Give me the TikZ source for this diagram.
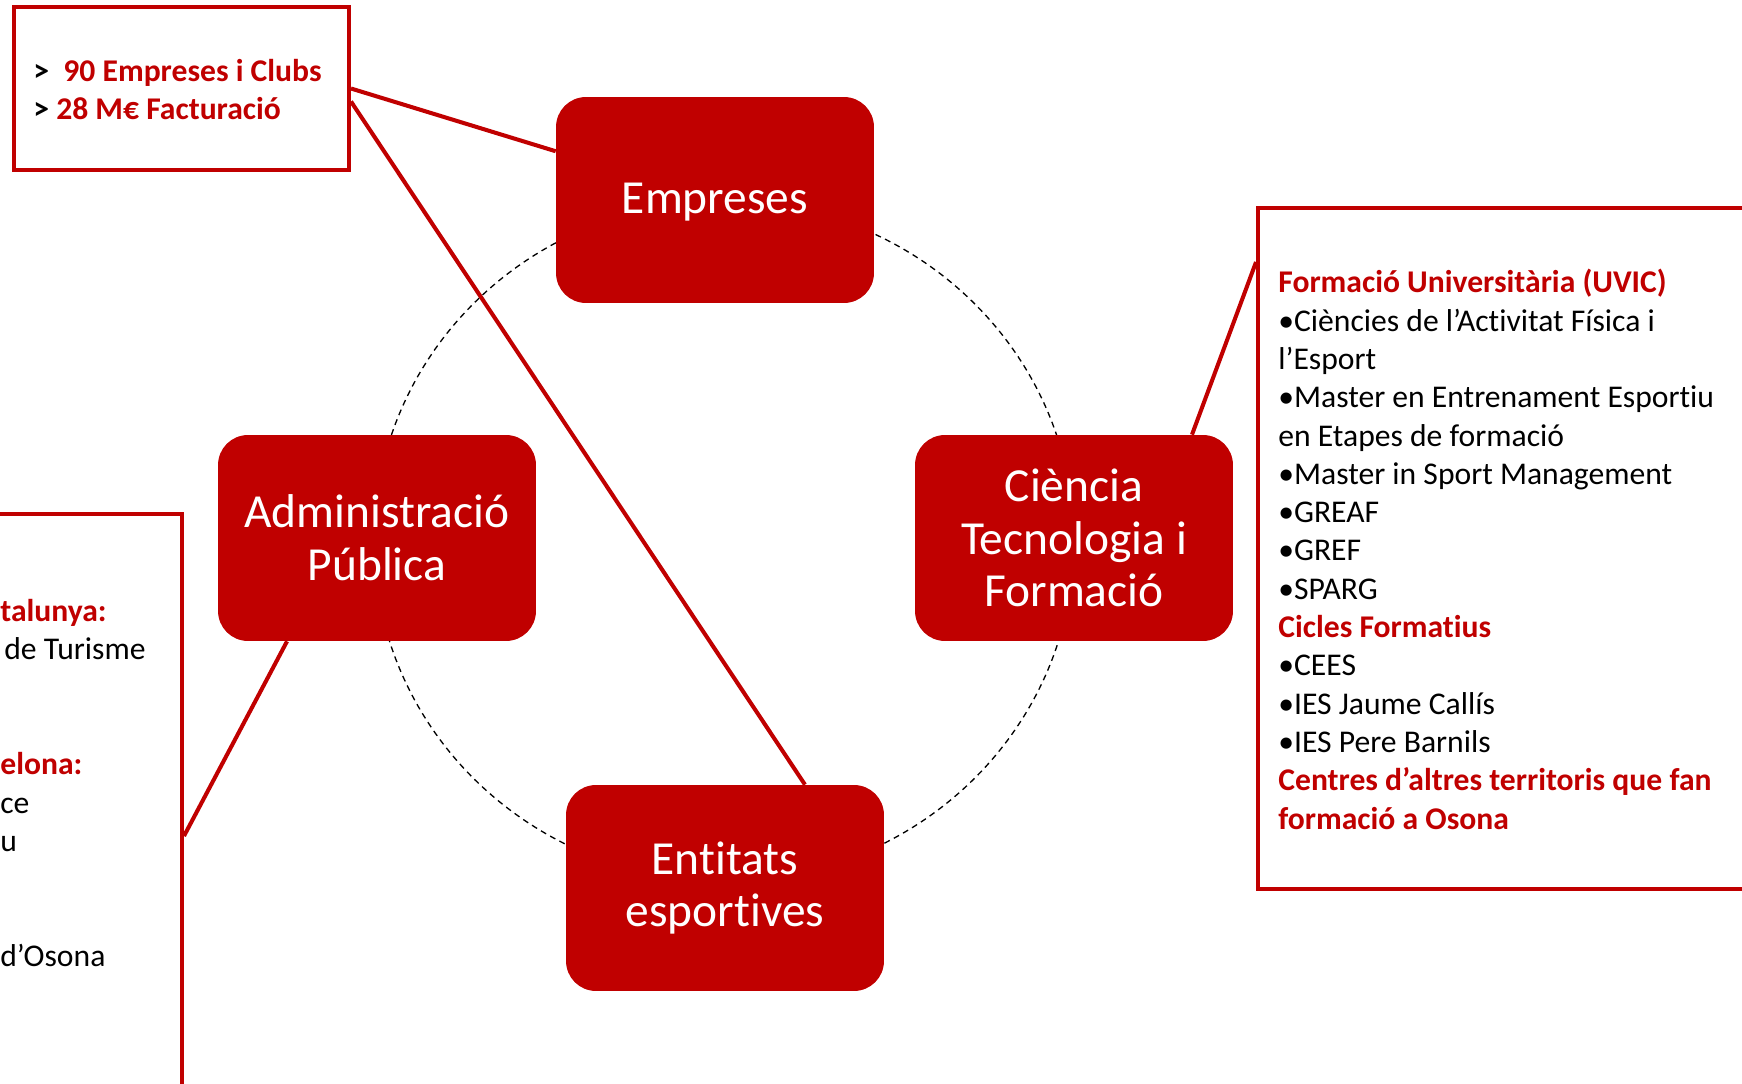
\documentclass[tikz,border=0pt]{standalone}
\usepackage{fontspec}
\setmainfont{Carlito}[Ligatures=NoCommon]
\usetikzlibrary{positioning,calc}
\definecolor{uvred}{RGB}{192,0,0}
\newcommand{\boxhead}[1]{{\bfseries\color{uvred}#1}}

\begin{document}
\begin{tikzpicture}[
  x=0.02cm, y=-0.02cm,
  actor/.style={rectangle, rounded corners=0.6cm, fill=uvred, text=white, minimum width=6.36cm, minimum height=4.12cm, align=center, inner sep=2pt, font=\fontsize{27}{30}\selectfont},
  panel/.style={rectangle, draw=uvred, line width=2.3pt},
  listing/.style={anchor=north west, align=left, inner sep=0pt, font=\fontsize{18}{21.8}\selectfont},
  link/.style={uvred, line width=2.3pt},
  ring/.style={black, line width=0.75pt, dash pattern=on 3.4pt off 2.6pt},
]
  \useasboundingbox (0,0) rectangle (1742,1084);
  \clip (0,0) rectangle (1742,1084);
  \coordinate (hub) at (724,541);
  \draw[ring] (hub) ellipse [x radius=7cm, y radius=6.8cm];
  \node[actor, text height=21pt, text depth=5.5pt] (emp) at (715,200) {Empreses};
  \node[actor] (adm) at (377,538) {Administració\\Pública};
  \node[actor] (cie) at (1074,538) {Ciència\\Tecnologia i\\Formació};
  \node[actor] (ent) at (725,888) {Entitats\\esportives};
  \node[panel, minimum width=6.7cm, minimum height=3.26cm] (stats) at (181.5,88.5) {};
  \node[panel, minimum width=4.84cm, minimum height=12.88cm] (admbox) at (61,836) {};
  \node[panel, minimum width=10.84cm, minimum height=13.62cm] (form) at (1529,548.5) {};
  \node[listing, font=\bfseries\fontsize{18}{21.5}\selectfont] (statstxt) at (33,59)
    {>\ \ \textcolor{uvred}{90 Empreses i Clubs}\\>\ \textcolor{uvred}{28 M€ Facturació}};
  \node[listing] (admtxt) at (0,599)
    {\boxhead{talunya:}\\\hspace{0.08cm}de Turisme\\ \\ \\\boxhead{elona:}\\ce\\u\\ \\ \\d’Osona};
  \node[listing] (formtxt) at (1278,269)
    {\boxhead{Formació Universitària (UVIC)}\\•Ciències de l’Activitat Física i\\l’Esport\\•Master en Entrenament Esportiu\\en Etapes de formació\\•Master in Sport Management\\•GREAF\\•GREF\\•SPARG\\\boxhead{Cicles Formatius}\\•CEES\\•IES Jaume Callís\\•IES Pere Barnils\\\boxhead{Centres d’altres territoris que fan}\\\boxhead{formació a Osona}};
  \draw[link] (stats.east) -- (emp);
  \draw[link] ([yshift=-0.26cm]stats.east) -- ([xshift=1.6cm]ent.north);
  \draw[link] ([xshift=-1.8cm]adm.south) -- (admbox.east);
  \draw[link] ([xshift=2.36cm]cie.north) -- ([yshift=-1.12cm]form.north west);
\end{tikzpicture}
\end{document}
